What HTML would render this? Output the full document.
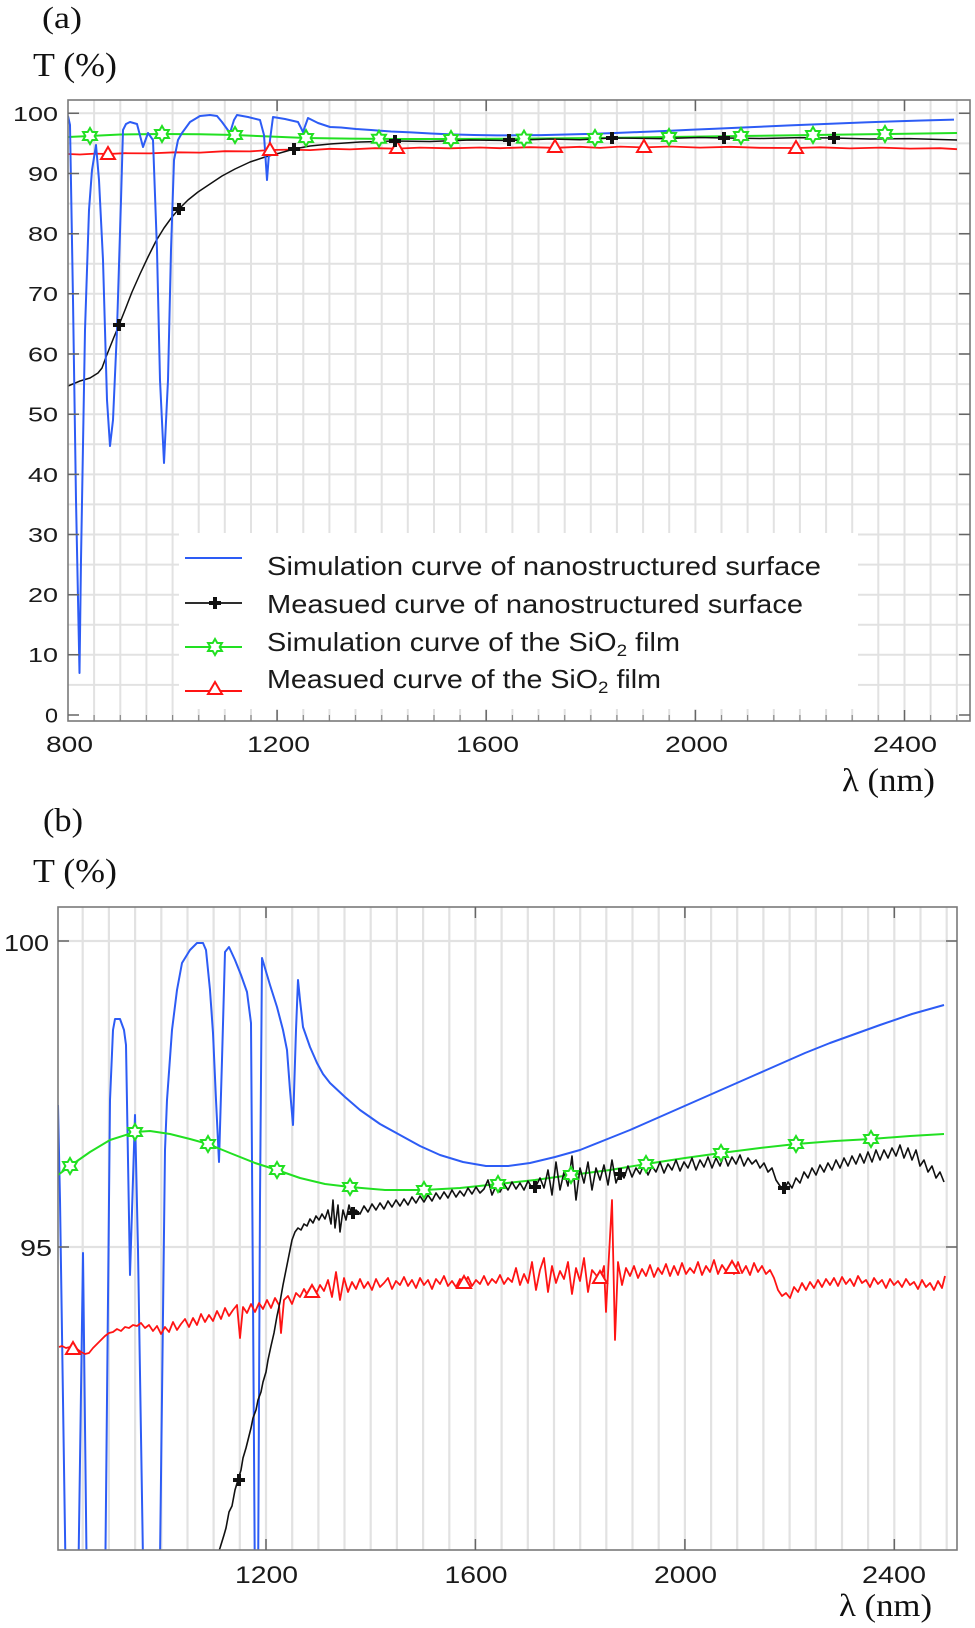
<!DOCTYPE html>
<html><head><meta charset="utf-8"><style>
html,body{margin:0;padding:0;background:#fff;}
svg{display:block;}
.sans{font-family:"Liberation Sans","DejaVu Sans",sans-serif;fill:#1a1a1a;}
.serif{font-family:"Liberation Serif","DejaVu Serif",serif;fill:#111;}
</style></head><body>
<svg width="975" height="1628" viewBox="0 0 975 1628" xmlns="http://www.w3.org/2000/svg">
<defs>
<clipPath id="ca"><rect x="68" y="100" width="902" height="621"/></clipPath>
<clipPath id="cb"><rect x="58" y="907" width="899" height="643"/></clipPath>
<path id="star" d="M0,-8 L2.31,-4 L6.93,-4 L4.62,0 L6.93,4 L2.31,4 L0,8 L-2.31,4 L-6.93,4 L-4.62,0 L-6.93,-4 L-2.31,-4 Z" fill="#fff" stroke="#22e022" stroke-width="2"/>
<path id="tri" d="M0,-7 L7,5 L-7,5 Z" fill="#fff" stroke="#ff1414" stroke-width="2"/>
<path id="plus" d="M-6,-2 H-2 V-6 H2 V-2 H6 V2 H2 V6 H-2 V2 H-6 Z" fill="#111"/>
</defs>

<!-- ================= (a) ================= -->
<text class="serif" x="42" y="28" font-size="31" textLength="40" lengthAdjust="spacingAndGlyphs">(a)</text>
<text class="serif" x="33" y="76" font-size="34" textLength="84" lengthAdjust="spacingAndGlyphs">T (%)</text>

<!-- grid a -->
<path stroke="#e2e2e2" stroke-width="2" fill="none" d="
M94.1,100V721 M120.3,100V721 M146.4,100V721 M172.6,100V721 M198.7,100V721 M224.8,100V721 M251,100V721 M277.1,100V721 M303.3,100V721 M329.4,100V721 M355.5,100V721 M381.7,100V721 M407.8,100V721 M434,100V721 M460.1,100V721 M486.2,100V721 M512.4,100V721 M538.5,100V721 M564.7,100V721 M590.8,100V721 M616.9,100V721 M643.1,100V721 M669.2,100V721 M695.4,100V721 M721.5,100V721 M747.6,100V721 M773.8,100V721 M799.9,100V721 M826.1,100V721 M852.2,100V721 M878.3,100V721 M904.5,100V721 M930.6,100V721 M956.8,100V721
M68,684.9H970 M68,654.8H970 M68,624.7H970 M68,594.7H970 M68,564.6H970 M68,534.5H970 M68,504.4H970 M68,474.4H970 M68,444.2H970 M68,414.2H970 M68,384.1H970 M68,354H970 M68,323.9H970 M68,293.8H970 M68,263.8H970 M68,233.7H970 M68,203.6H970 M68,173.5H970 M68,143.4H970 M68,113.3H970"/>

<g clip-path="url(#ca)" fill="none" stroke-linejoin="round">
<!-- red a -->
<polyline stroke="#ff1414" stroke-width="1.8" points="68,154 80,154.5 95,153.6 108,154 125,153.2 150,153.4 175,152.3 200,152.6 225,151.2 250,151.4 270,150 290,149.6 310,150.1 330,148.8 350,149.4 375,148.2 397,148.6 420,147.6 450,148.3 480,147.5 500,148.2 530,147.2 555,147.8 580,146.8 600,147.9 620,146.6 644,147.4 670,146.5 700,147.6 730,146.8 760,147.8 796,148 820,147.3 850,148.4 880,147.6 910,148.6 940,148.2 957,149.2"/>
<!-- green a -->
<polyline stroke="#22e022" stroke-width="2" points="68,137 90,136 120,134.5 162,134 200,134.3 235,135 270,136.5 306,138 350,138.6 400,139 451,139 500,138.8 524,138.6 595,138 669,137 741,136 813,135 885,134 957,133"/>
<!-- black a -->
<polyline stroke="#111" stroke-width="1.5" points="68,386 80,381 90,378 98,373 102,368 106,357 110,347 114,337 119,325 125,310 132,292 140,274 148,257 156,241 164,228 172,217 179,209 188,200 198,192 210,184 222,176 235,169 250,162 265,157 280,153 294,149 310,146 330,144 360,142 395,141 430,141.5 470,140 509,140.5 550,139 580,139.8 612,138 660,138.6 700,137.5 724,138 760,138.5 800,137.6 834,138 870,139 910,138.6 957,140"/>
<!-- blue a -->
<polyline stroke="#2d5cf5" stroke-width="2" points="68,116 70,125 73,300 76,500 79.5,673 81,560 85,330 89,210 92,170 96,145 99,180 103,260 107,400 110,446 113,420 117,330 121,200 123,130 126,124 130,122 137,124 143,147 148,133 153,140 157,250 160,380 164,463 168,380 171,250 174,160 178,140 182,133 190,122 200,116 210,115 217,116 222,122 230,133 234,120 237,115 248,117 260,120 264,135 267,180 270,140 273,117 285,119 298,122 303,132 308,118 318,123 330,127 341,127.5 356,129 371,130 391,131.5 411,132.4 431,133.5 451,134.4 474,135 497,135.4 519,135.3 541,135.1 566,134.5 591,133.9 615,133 640,132 665,131 691,129.7 715,128.7 740,127.6 765,126.5 790,125.4 815,124.4 840,123.4 865,122.4 890,121.5 922,120.5 954,119.6"/>
</g>
<!-- markers a -->
<g>
<use href="#tri" x="108" y="154"/><use href="#tri" x="270" y="150"/><use href="#tri" x="397" y="148"/><use href="#tri" x="555" y="147"/><use href="#tri" x="644" y="147"/><use href="#tri" x="796" y="148"/>
<use href="#star" x="90" y="136"/><use href="#star" x="162" y="134"/><use href="#star" x="235" y="135"/><use href="#star" x="306" y="138"/><use href="#star" x="379" y="138.8"/><use href="#star" x="451" y="139"/><use href="#star" x="524" y="138.6"/><use href="#star" x="595" y="138"/><use href="#star" x="669" y="137"/><use href="#star" x="741" y="136"/><use href="#star" x="813" y="135"/><use href="#star" x="885" y="134"/>
<use href="#plus" x="119" y="325"/><use href="#plus" x="179" y="209"/><use href="#plus" x="294" y="149"/><use href="#plus" x="395" y="141"/><use href="#plus" x="509" y="140"/><use href="#plus" x="612" y="138"/><use href="#plus" x="724" y="138"/><use href="#plus" x="834" y="138"/>
</g>

<!-- legend a -->
<rect x="179" y="533" width="679" height="176" fill="#fff"/>
<line x1="185" y1="558" x2="242" y2="558" stroke="#2d5cf5" stroke-width="2"/>
<line x1="185" y1="603" x2="242" y2="603" stroke="#111" stroke-width="1.8"/>
<use href="#plus" x="215" y="603"/>
<line x1="185" y1="647" x2="242" y2="647" stroke="#22e022" stroke-width="2"/>
<use href="#star" x="215" y="647"/>
<line x1="185" y1="691" x2="242" y2="691" stroke="#ff1414" stroke-width="2"/>
<use href="#tri" x="215" y="689"/>
<text class="sans" x="267" y="575" font-size="26" fill="#111" textLength="554" lengthAdjust="spacingAndGlyphs">Simulation curve of nanostructured surface</text>
<text class="sans" x="267" y="613" font-size="26" fill="#111" textLength="536" lengthAdjust="spacingAndGlyphs">Measued curve of nanostructured surface</text>
<text class="sans" x="267" y="651" font-size="26" fill="#111" textLength="413" lengthAdjust="spacingAndGlyphs">Simulation curve of the SiO<tspan font-size="17" dy="5">2</tspan><tspan dy="-5"> film</tspan></text>
<text class="sans" x="267" y="688" font-size="26" fill="#111" textLength="394" lengthAdjust="spacingAndGlyphs">Measued curve of the SiO<tspan font-size="17" dy="5">2</tspan><tspan dy="-5"> film</tspan></text>

<!-- minor ticks a (bottom) -->
<path stroke="#888" stroke-width="1.2" d="M94.1,721v-6 M120.3,721v-6 M146.4,721v-6 M172.6,721v-6 M198.7,721v-6 M224.8,721v-6 M251,721v-6 M303.3,721v-6 M329.4,721v-6 M355.5,721v-6 M381.7,721v-6 M407.8,721v-6 M434,721v-6 M460.1,721v-6 M512.4,721v-6 M538.5,721v-6 M564.7,721v-6 M590.8,721v-6 M616.9,721v-6 M643.1,721v-6 M669.2,721v-6 M721.5,721v-6 M747.6,721v-6 M773.8,721v-6 M799.9,721v-6 M826.1,721v-6 M852.2,721v-6 M878.3,721v-6 M930.6,721v-6 M956.8,721v-6"/>
<!-- frame a -->
<rect x="68" y="100" width="902" height="621" fill="none" stroke="#7a7a7a" stroke-width="1.6"/>
<path stroke="#666" stroke-width="1.5" d="M277.1,721v-11 M486.2,721v-11 M695.4,721v-11 M904.5,721v-11 M277.1,100v11 M486.2,100v11 M695.4,100v11 M904.5,100v11
M68,113.3h11 M68,173.5h11 M68,233.7h11 M68,293.8h11 M68,354h11 M68,414.2h11 M68,474.4h11 M68,534.5h11 M68,594.7h11 M68,654.8h11 M68,715h11
M970,113.3h-11 M970,173.5h-11 M970,233.7h-11 M970,293.8h-11 M970,354h-11 M970,414.2h-11 M970,474.4h-11 M970,534.5h-11 M970,594.7h-11 M970,654.8h-11 M970,715h-11"/>

<!-- y labels a -->
<g class="sans" font-size="20" text-anchor="end">
<text x="58" y="121" textLength="45" lengthAdjust="spacingAndGlyphs">100</text>
<text x="58" y="181" textLength="30" lengthAdjust="spacingAndGlyphs">90</text>
<text x="58" y="241" textLength="30" lengthAdjust="spacingAndGlyphs">80</text>
<text x="58" y="301" textLength="30" lengthAdjust="spacingAndGlyphs">70</text>
<text x="58" y="361.5" textLength="30" lengthAdjust="spacingAndGlyphs">60</text>
<text x="58" y="421.5" textLength="30" lengthAdjust="spacingAndGlyphs">50</text>
<text x="58" y="482" textLength="30" lengthAdjust="spacingAndGlyphs">40</text>
<text x="58" y="542" textLength="30" lengthAdjust="spacingAndGlyphs">30</text>
<text x="58" y="602" textLength="30" lengthAdjust="spacingAndGlyphs">20</text>
<text x="58" y="662" textLength="30" lengthAdjust="spacingAndGlyphs">10</text>
<text x="58" y="722.5" textLength="13" lengthAdjust="spacingAndGlyphs">0</text>
</g>
<!-- x labels a -->
<g class="sans" font-size="22" text-anchor="middle">
<text x="69.5" y="752" textLength="47" lengthAdjust="spacingAndGlyphs">800</text>
<text x="278.5" y="752" textLength="63" lengthAdjust="spacingAndGlyphs">1200</text>
<text x="487.5" y="752" textLength="63" lengthAdjust="spacingAndGlyphs">1600</text>
<text x="696.5" y="752" textLength="63" lengthAdjust="spacingAndGlyphs">2000</text>
<text x="905" y="752" textLength="64" lengthAdjust="spacingAndGlyphs">2400</text>
</g>
<text class="serif" x="842" y="791" font-size="33" textLength="93" lengthAdjust="spacingAndGlyphs">λ (nm)</text>

<!-- ================= (b) ================= -->
<text class="serif" x="43" y="831" font-size="33" textLength="40" lengthAdjust="spacingAndGlyphs">(b)</text>
<text class="serif" x="33" y="882" font-size="34" textLength="84" lengthAdjust="spacingAndGlyphs">T (%)</text>

<path stroke="#e2e2e2" stroke-width="2.2" fill="none" d="
M82.7,907V1550 M108.9,907V1550 M135.1,907V1550 M161.3,907V1550 M187.5,907V1550 M213.6,907V1550 M239.8,907V1550 M266,907V1550 M292.2,907V1550 M318.4,907V1550 M344.5,907V1550 M370.7,907V1550 M396.9,907V1550 M423.1,907V1550 M449.3,907V1550 M475.4,907V1550 M501.6,907V1550 M527.8,907V1550 M554,907V1550 M580.2,907V1550 M606.3,907V1550 M632.5,907V1550 M658.7,907V1550 M684.9,907V1550 M711.1,907V1550 M737.2,907V1550 M763.4,907V1550 M789.6,907V1550 M815.8,907V1550 M842,907V1550 M868.1,907V1550 M894.3,907V1550 M920.5,907V1550 M946.7,907V1550
M58,941H957 M58,1247H957"/>

<g clip-path="url(#cb)" fill="none" stroke-linejoin="round">
<!-- blue b -->
<polyline stroke="#2d5cf5" stroke-width="2" points="58,1105 60,1200 63,1400 66,1600 78,1600 83,1253 87,1600 105,1600 110,1100 113,1030 115,1019 120,1019 124,1030 126,1045 130,1275 135,1115 138,1250 143,1560 160,1560 165,1150 167,1100 172,1030 177,990 182,963 190,950 197,943 203,943 206,950 210,990 213,1033 216,1100 219,1162 222,1060 225,952 229,947 235,960 241,975 247,992 251,1023 253,1300 255,1600 258,1600 260,1200 262,958 270,985 277,1007 283,1030 287,1050 290,1090 293,1125 296,1030 298,980 300,1000 303,1027 310,1047 317,1063 323,1074 330,1083 345,1097 360,1110 380,1124 400,1135 420,1146 440,1155 463,1162 486,1166 508,1166 530,1163 555,1157 580,1150 605,1140 630,1130 655,1119 680,1108 705,1097 730,1086 755,1075 780,1064 805,1053 830,1043 855,1034 880,1025 912,1014 944,1005"/>
<!-- green b -->
<polyline stroke="#22e022" stroke-width="2" points="58,1175 70,1166 90,1152 110,1140 135,1132 150,1131 170,1134 190,1139 208,1144 230,1153 255,1163 277,1170 300,1178 325,1184 350,1187 385,1190 424,1190 460,1188 498,1184 535,1180 571,1175 610,1170 646,1164 685,1158 721,1153 760,1148 796,1144 835,1141 871,1139 910,1136 944,1134"/>
<!-- red b -->
<polyline stroke="#ff1414" stroke-width="1.8" points="59,1347 62,1346 66,1348 70,1347 73,1350 77,1349 81,1352 85,1354 89,1353 93,1348 97,1344 101,1340 105,1336 109,1333 113,1332 117,1329 121,1331 125,1327 129,1328 133,1325 137,1326 141,1323 145,1328 149,1325 153,1331 157,1326 161,1334 165,1327 169,1332 173,1322 177,1330 181,1324 185,1319 189,1327 193,1318 197,1325 201,1314 205,1322 209,1315 213,1321 217,1311 221,1319 225,1308 229,1316 233,1310 237,1305 240,1338 243,1307 247,1313 251,1304 255,1312 259,1303 263,1309 267,1300 271,1308 275,1298 279,1305 281,1333 284,1300 288,1296 292,1304 296,1293 300,1297 304,1289 308,1296 312,1287 316,1294 320,1285 324,1291 328,1280 332,1297 336,1272 340,1300 344,1278 348,1292 352,1282 356,1289 360,1279 364,1288 368,1282 372,1290 376,1279 380,1287 384,1283 388,1278 392,1289 396,1281 400,1285 404,1277 408,1286 412,1280 416,1288 420,1278 424,1285 428,1280 432,1289 436,1279 440,1284 444,1276 448,1286 452,1281 456,1287 460,1279 464,1284 468,1277 472,1286 476,1280 480,1284 484,1276 488,1285 492,1279 496,1283 500,1275 504,1284 508,1278 512,1282 516,1268 520,1285 524,1274 528,1283 532,1262 536,1290 540,1270 544,1258 548,1292 552,1266 556,1283 560,1271 564,1279 568,1262 572,1294 576,1268 580,1281 584,1258 588,1292 592,1270 596,1275 600,1280 604,1266 606,1312 609,1255 612,1200 615,1340 618,1262 622,1285 626,1268 630,1276 634,1266 638,1278 642,1269 646,1276 650,1265 654,1277 658,1268 662,1274 666,1264 670,1276 674,1266 678,1275 682,1263 686,1274 690,1268 694,1273 698,1262 702,1275 706,1266 710,1272 714,1260 718,1274 722,1265 726,1271 730,1268 734,1274 738,1262 742,1273 746,1266 750,1275 754,1263 758,1272 762,1266 766,1274 770,1270 774,1278 778,1290 782,1296 786,1293 790,1298 794,1287 798,1292 802,1283 806,1290 810,1282 814,1288 818,1280 822,1287 826,1279 830,1285 834,1278 838,1286 842,1277 846,1284 850,1279 854,1286 858,1276 862,1283 866,1280 870,1287 874,1278 878,1284 882,1280 886,1288 890,1279 894,1285 898,1281 902,1287 906,1279 910,1285 914,1282 918,1289 922,1280 926,1287 930,1283 934,1290 938,1281 942,1288 945,1276"/>
<!-- black b -->
<polyline stroke="#111" stroke-width="1.6" points="216,1560 220,1548 224,1535 226,1528 229,1512 232,1506 235,1490 238,1480 241,1470 243,1458 246,1448 248,1440 251,1428 253,1418 256,1410 258,1400 261,1392 263,1382 266,1372 268,1360 271,1346 274,1333 277,1316 280,1302 283,1285 286,1270 289,1255 292,1240 295,1232 298,1228 301,1230 304,1224 307,1226 310,1219 313,1223 316,1216 319,1220 322,1214 325,1219 328,1210 331,1224 333,1200 335,1228 338,1205 340,1232 343,1210 346,1220 349,1205 352,1216 356,1210 360,1214 364,1206 368,1212 372,1204 376,1210 380,1203 384,1209 388,1201 392,1207 396,1200 400,1206 404,1199 408,1205 412,1197 416,1203 420,1196 424,1202 428,1195 432,1201 436,1193 440,1199 444,1192 448,1198 452,1190 456,1197 460,1191 464,1196 468,1188 472,1194 476,1187 480,1193 484,1189 488,1180 492,1195 496,1186 500,1192 504,1184 508,1190 512,1182 516,1189 520,1183 524,1190 528,1181 532,1188 536,1186 540,1178 544,1188 548,1170 552,1195 556,1162 560,1190 564,1172 568,1186 572,1156 576,1200 580,1168 584,1183 588,1162 592,1190 596,1168 600,1180 604,1165 608,1185 612,1160 616,1183 620,1172 624,1178 628,1166 632,1177 636,1168 640,1174 644,1164 648,1175 652,1166 656,1172 660,1162 664,1173 668,1164 672,1170 676,1160 680,1171 684,1162 688,1168 692,1158 696,1170 700,1160 704,1167 708,1157 712,1168 716,1158 720,1166 724,1155 728,1166 732,1157 736,1164 740,1155 744,1166 748,1158 752,1164 756,1160 760,1168 764,1163 768,1172 772,1168 776,1180 780,1186 784,1190 788,1182 792,1188 796,1178 800,1183 804,1172 808,1178 812,1168 816,1175 820,1165 824,1172 828,1163 832,1170 836,1160 840,1168 844,1158 848,1166 852,1156 856,1164 860,1154 864,1163 868,1152 872,1162 876,1150 880,1160 884,1150 888,1158 892,1148 896,1156 900,1145 904,1158 908,1148 912,1160 916,1150 920,1166 924,1160 928,1172 932,1166 936,1178 940,1172 944,1182"/>
</g>
<g>
<use href="#star" x="70" y="1166"/><use href="#star" x="135" y="1132"/><use href="#star" x="208" y="1144"/><use href="#star" x="277" y="1170"/><use href="#star" x="350" y="1187"/><use href="#star" x="424" y="1190"/><use href="#star" x="498" y="1184"/><use href="#star" x="571" y="1175"/><use href="#star" x="646" y="1164"/><use href="#star" x="721" y="1153"/><use href="#star" x="796" y="1144"/><use href="#star" x="871" y="1139"/>
<use href="#tri" x="73" y="1349"/><use href="#tri" x="312" y="1292"/><use href="#tri" x="464" y="1283"/><use href="#tri" x="600" y="1278"/><use href="#tri" x="732" y="1268"/>
<use href="#plus" x="239" y="1480"/><use href="#plus" x="353" y="1213"/><use href="#plus" x="535" y="1187"/><use href="#plus" x="620" y="1174"/><use href="#plus" x="784" y="1188"/>
</g>

<!-- frame b -->
<rect x="58" y="907" width="899" height="643" fill="none" stroke="#7a7a7a" stroke-width="1.6"/>
<path stroke="#666" stroke-width="1.5" d="M266,1550v-11 M475.4,1550v-11 M684.9,1550v-11 M894.3,1550v-11 M266,907v11 M475.4,907v11 M684.9,907v11 M894.3,907v11 M58,941h11 M58,1247h11 M957,941h-11 M957,1247h-11"/>

<g class="sans" font-size="23" text-anchor="end">
<text x="49" y="951" textLength="45" lengthAdjust="spacingAndGlyphs">100</text>
<text x="52" y="1256" textLength="32" lengthAdjust="spacingAndGlyphs">95</text>
</g>
<g class="sans" font-size="24" text-anchor="middle">
<text x="266.5" y="1583" textLength="63" lengthAdjust="spacingAndGlyphs">1200</text>
<text x="476" y="1583" textLength="63" lengthAdjust="spacingAndGlyphs">1600</text>
<text x="685.5" y="1583" textLength="63" lengthAdjust="spacingAndGlyphs">2000</text>
<text x="894" y="1583" textLength="64" lengthAdjust="spacingAndGlyphs">2400</text>
</g>
<text class="serif" x="839" y="1616" font-size="32" textLength="93" lengthAdjust="spacingAndGlyphs">λ (nm)</text>
</svg>
</body></html>
